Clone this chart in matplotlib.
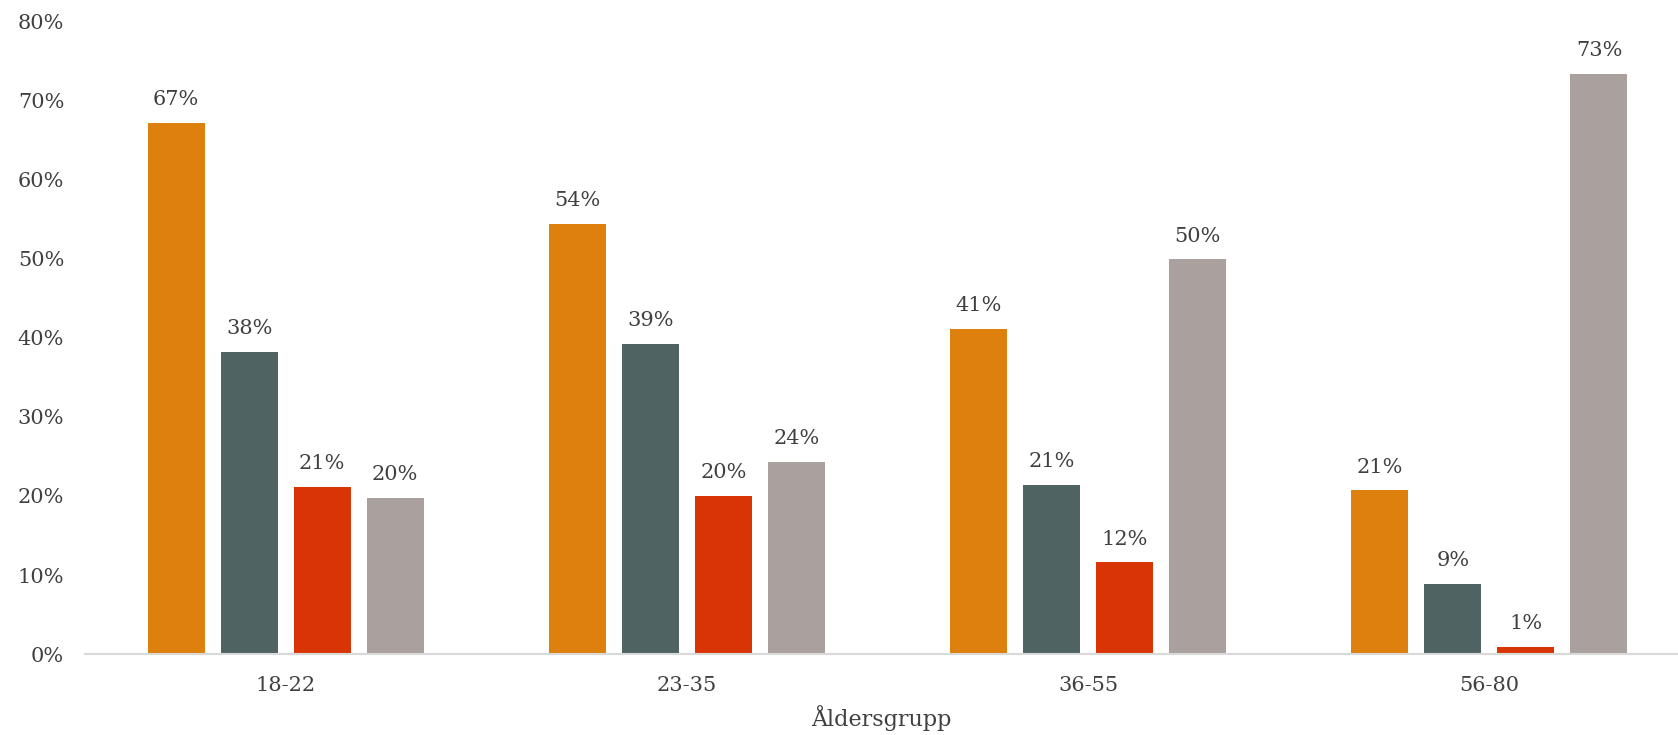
import matplotlib
matplotlib.use("Agg")
import matplotlib.pyplot as plt
import numpy as np

categories = ["18-22", "23-35", "36-55", "56-80"]
series_1 = [67.2, 54.4, 41.1, 20.7]
series_2 = [38.2, 39.2, 21.4, 8.9]
series_3 = [21.1, 20.0, 11.6, 0.9]
series_4 = [19.7, 24.3, 49.9, 73.4]
y_ticks = [0, 10, 20, 30, 40, 50, 60, 70, 80]
x_label = "Åldersgrupp"

colors = ["#DE800D", "#4F6462", "#D93405", "#AAA19E"]
text_color = "#404040"

plt.rcParams['font.family'] = ['DejaVu Serif']

fig = plt.figure(figsize=(16.78, 7.35), dpi=100)
ax = fig.add_axes([0.0507, 0.110, 0.9493, 0.861])

x = np.arange(len(categories))
width = 0.142
step = 0.182
series = [series_1, series_2, series_3, series_4]
for i, (vals, c) in enumerate(zip(series, colors)):
    pos = x + (i - 1.5) * step
    bars = ax.bar(pos, vals, width=width, color=c, zorder=2)
    for b, v in zip(bars, vals):
        ax.annotate(f"{round(v):d}%", (b.get_x() + b.get_width() / 2, v),
                    xytext=(0, 10), textcoords="offset points",
                    ha="center", va="bottom", fontsize=15, color=text_color)

ax.set_xlim(-0.5, 3.47)
ax.set_ylim(0, 80)
ax.set_yticks(y_ticks)
ax.set_yticklabels([f"{t}%" for t in y_ticks])
ax.set_xticks(x)
ax.set_xticklabels(categories)
ax.tick_params(axis="both", length=0, labelsize=15, colors=text_color)
ax.tick_params(axis="y", pad=15)
ax.tick_params(axis="x", pad=16)
for s in ["top", "right", "left"]:
    ax.spines[s].set_visible(False)
ax.spines["bottom"].set_color("#D9D9D9")
ax.spines["bottom"].set_linewidth(1.5)
ax.spines["bottom"].set_zorder(3)
ax.set_xlabel(x_label, fontsize=16, color=text_color, labelpad=7)

fig.savefig("out.png", dpi=100)
